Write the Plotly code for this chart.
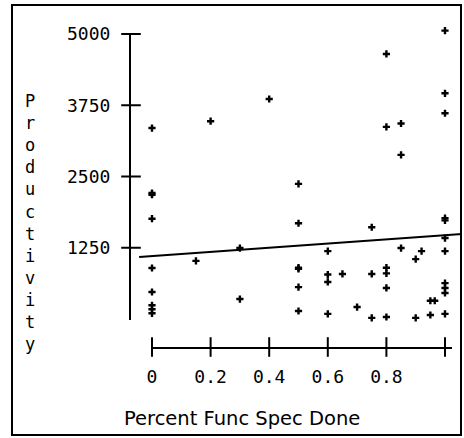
import plotly.graph_objects as go

# ---- data ----
pct_func_spec_done = [
    0, 0, 0, 0, 0, 0, 0, 0, 0,
    0.15, 0.2, 0.3, 0.3, 0.4,
    0.5, 0.5, 0.5, 0.5, 0.5, 0.5,
    0.6, 0.6, 0.6, 0.6, 0.65, 0.7,
    0.75, 0.75, 0.75,
    0.8, 0.8, 0.8, 0.8, 0.8, 0.8,
    0.85, 0.85, 0.85, 0.9, 0.9, 0.92, 0.95, 0.95, 0.965,
    1, 1, 1, 1, 1, 1, 1, 1, 1, 1, 1,
]
productivity = [
    3350, 2210, 2180, 1760, 895, 474, 240, 170, 100,
    1020, 3470, 1245, 350, 3860,
    2370, 1680, 900, 880, 560, 140,
    1190, 780, 650, 90, 790, 210,
    1610, 790, 20,
    4650, 3370, 900, 800, 545, 35,
    3430, 2880, 1245, 1050, 20, 1190, 320, 70, 320,
    5060, 3960, 3610, 1770, 1730, 1420, 1190, 630, 545, 456, 90,
]
fit_intercept = 1104
fit_slope = 366
fit_x = [-0.044, 1.058]

x_tickvals = [0, 0.2, 0.4, 0.6, 0.8, 1.0]
x_ticktext = ["0", "0.2", "0.4", "0.6", "0.8", ""]
y_tickvals = [1250, 2500, 3750, 5000]
y_ticktext = ["1250", "2500", "3750", "5000"]

x_title = "Percent Func Spec Done"
y_title = "Productivity"

# ---- geometry helpers (pixel -> paper) ----
W, H = 464, 438
def fx(px):
    return px / W
def fy(py):
    return 1 - py / H

X0_PX, X_PER_UNIT = 152, 293.0          # pixel of x=0, pixels per 1.0
Y0_PX, Y_PER_UNIT = 319, 285.0 / 5000   # pixel of y=0, pixels per unit

def xr(p0, p1):
    return [(p0 - X0_PX) / X_PER_UNIT, (p1 - X0_PX) / X_PER_UNIT]
def yr(pbottom, ptop):
    return [(Y0_PX - pbottom) / Y_PER_UNIT, (Y0_PX - ptop) / Y_PER_UNIT]

fit_y = [fit_intercept + fit_slope * v for v in fit_x]

font_mono = dict(family="DejaVu Sans Mono", size=18, color="black")

fig = go.Figure()
fig.add_trace(go.Scatter(
    x=pct_func_spec_done, y=productivity, mode="markers",
    marker=dict(symbol="cross", size=6, color="black"),
    cliponaxis=False, showlegend=False, xaxis="x", yaxis="y"))
fig.add_trace(go.Scatter(
    x=fit_x, y=fit_y, mode="lines", line=dict(color="black", width=2),
    showlegend=False, xaxis="x", yaxis="y"))
# crossing tick marks, placed on the visible axes
fig.add_trace(go.Scatter(
    x=x_tickvals, y=[0] * len(x_tickvals), xaxis="x2", yaxis="y4",
    mode="markers", cliponaxis=False, showlegend=False, hoverinfo="skip",
    marker=dict(symbol="line-ns", size=14, line=dict(color="black", width=2))))
fig.add_trace(go.Scatter(
    x=[0] * len(y_tickvals), y=y_tickvals, xaxis="x4", yaxis="y2",
    mode="markers", cliponaxis=False, showlegend=False, hoverinfo="skip",
    marker=dict(symbol="line-ew", size=14, line=dict(color="black", width=2))))

hidden = dict(visible=False, showgrid=False, zeroline=False)

fig.update_layout(
    width=W, height=H, margin=dict(l=0, r=0, t=0, b=0, pad=0, autoexpand=False),
    paper_bgcolor="white", plot_bgcolor="rgba(0,0,0,0)",
    xaxis=dict(domain=[fx(139), fx(462)], range=xr(139, 462), anchor="y", **hidden),
    yaxis=dict(domain=[fy(330), fy(20)], range=yr(330, 20), anchor="x", **hidden),
    xaxis4=dict(domain=[fx(131), fx(462)], range=[0, 1], anchor="y4", **hidden),
    yaxis4=dict(domain=[fy(347), fy(20)], range=[0, 1], anchor="x4", **hidden),
    xaxis2=dict(domain=[fx(152), fx(452)], range=xr(152, 452), anchor="y4",
                side="bottom", showline=True, linecolor="black", linewidth=2,
                showgrid=False, zeroline=False, tickmode="array",
                tickvals=x_tickvals, ticktext=x_ticktext, ticks="",
                tickfont=font_mono, ticklabelstandoff=12, automargin=False),
    yaxis2=dict(domain=[fy(320), fy(34)], range=yr(320, 34), anchor="x4",
                side="left", showline=True, linecolor="black", linewidth=2,
                showgrid=False, zeroline=False, tickmode="array",
                tickvals=y_tickvals, ticktext=y_ticktext, ticks="",
                tickfont=font_mono, ticklabelstandoff=15, automargin=False),
    shapes=[dict(type="rect", xref="paper", yref="paper",
                 x0=fx(12), x1=fx(461), y0=fy(435), y1=fy(5),
                 line=dict(color="black", width=2))],
    annotations=[
        dict(text=x_title, xref="paper", yref="paper", x=fx(242), y=fy(418),
             xanchor="center", yanchor="middle", showarrow=False,
             font=dict(family="DejaVu Sans", size=19.5, color="black")),
        dict(text="<br>".join(list(y_title)), xref="paper", yref="paper",
             x=fx(30), y=fy(222), xanchor="center", yanchor="middle",
             showarrow=False,
             font=dict(family="DejaVu Sans Mono", size=17, color="black")),
    ],
)

fig.write_html("out.html")
